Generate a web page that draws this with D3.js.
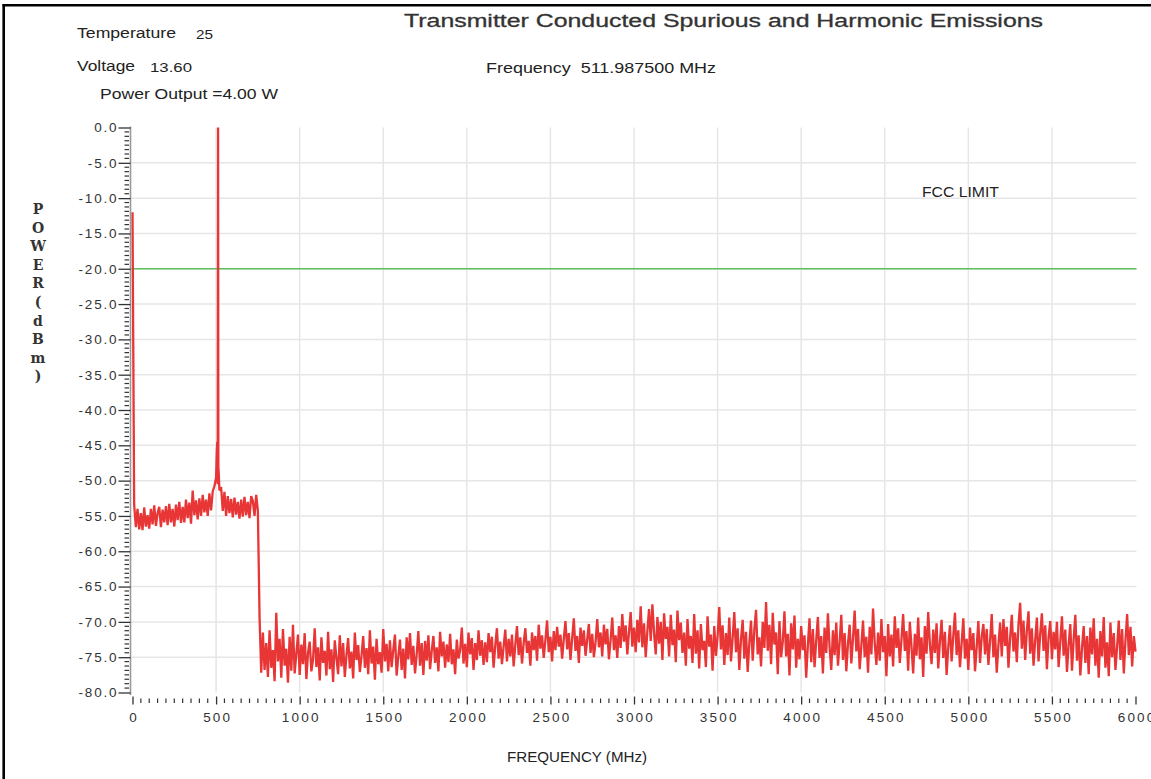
<!DOCTYPE html>
<html><head><meta charset="utf-8">
<script src="https://cdn.jsdelivr.net/npm/d3@7"></script>
<style>body{margin:0;background:#fff;} svg{display:block;}</style>
</head><body><svg id="c" width="1151" height="779"></svg>
<script>
// ---- data ----
const sweepStartMHz = 0;
const sweepStepMHz = 10;
const powerDbm = [
 -12.0,-53.4,-56.6,-54.0,-56.9,-54.6,-57.0,-53.8,-56.5,-54.9,
 -56.8,-54.0,-56.2,-53.5,-56.4,-54.6,-53.7,-56.6,-54.1,-55.9,
 -53.6,-56.3,-53.3,-55.9,-54.0,-56.5,-53.4,-55.6,-53.0,-56.0,
 -53.7,-55.9,-52.7,-55.3,-53.1,-56.1,-51.4,-54.9,-52.8,-55.5,
 -52.5,-55.0,-52.0,-54.5,-52.7,-55.0,-51.8,-54.2,-51.5,-50.8,
 -49.6,-50.5,-51.4,-50.9,-54.3,-51.6,-55.0,-52.2,-54.6,-52.6,
 -55.2,-52.4,-54.8,-53.0,-55.4,-52.7,-55.1,-52.3,-54.9,-53.0,
 -55.3,-52.2,-52.9,-55.0,-52.0,-54.3,-69.3,-77.2,-71.5,-76.8,
 -73.0,-77.8,-71.2,-76.5,-74.0,-78.4,-68.7,-75.6,-72.4,-77.9,
 -71.0,-76.2,-73.8,-78.6,-72.1,-76.9,-70.4,-77.3,-74.5,-71.8,
 -77.5,-73.2,-76.0,-71.6,-78.1,-74.4,-72.8,-77.0,-75.3,-70.9,
 -76.4,-73.6,-78.3,-72.2,-75.8,-74.1,-77.6,-71.4,-76.7,-73.9,
 -78.5,-72.6,-75.1,-77.4,-71.9,-76.3,-73.0,-77.8,-74.7,-72.3,
 -76.6,-74.2,-78.0,-71.5,-75.4,-73.3,-77.1,-74.8,-72.0,-76.5,
 -73.7,-77.4,-71.2,-75.9,-73.5,-78.2,-72.4,-76.0,-74.3,-77.2,
 -71.0,-75.6,-73.1,-77.0,-72.6,-76.4,-74.0,-71.8,-77.6,-74.9,
 -72.5,-76.8,-73.8,-78.0,-72.2,-75.3,-71.6,-76.1,-73.4,-77.3,
 -74.6,-71.3,-76.2,-73.0,-77.5,-72.7,-75.5,-71.9,-76.7,-74.1,
 -72.0,-75.8,-73.6,-77.0,-71.4,-74.9,-72.8,-76.5,-73.2,-75.7,
 -71.7,-76.0,-73.9,-77.4,-72.5,-75.2,-74.0,-70.8,-75.9,-73.1,
 -76.4,-71.5,-74.6,-72.3,-76.8,-73.0,-75.4,-71.2,-74.8,-72.6,
 -76.1,-72.9,-75.7,-71.6,-74.3,-72.1,-76.5,-73.4,-70.9,-75.2,
 -72.8,-76.0,-73.5,-71.1,-75.6,-72.4,-74.9,-71.8,-76.3,-73.2,
 -70.6,-74.7,-72.2,-75.9,-73.0,-70.9,-74.4,-72.7,-76.2,-71.5,
 -74.0,-72.0,-75.5,-70.4,-73.8,-71.9,-75.1,-72.6,-69.8,-74.3,
 -72.1,-75.6,-71.3,-74.0,-70.7,-73.5,-71.8,-75.2,-72.4,-69.9,
 -73.9,-71.6,-75.4,-72.3,-69.5,-74.1,-72.0,-75.8,-70.8,-73.4,
 -71.2,-74.8,-72.5,-70.3,-74.4,-71.7,-75.0,-72.9,-69.6,-73.6,
 -71.5,-74.9,-70.4,-73.2,-71.0,-75.3,-72.6,-69.4,-74.0,-71.9,
 -75.1,-70.6,-73.7,-68.9,-72.8,-70.5,-74.6,-71.4,-68.6,-73.5,
 -70.8,-74.3,-69.7,-72.9,-67.8,-73.6,-70.2,-75.0,-71.3,-68.2,
 -72.7,-67.5,-71.6,-74.6,-69.3,-73.1,-70.0,-75.4,-68.8,-72.4,
 -70.7,-74.9,-69.0,-73.3,-71.1,-75.7,-68.4,-72.6,-70.1,-74.4,
 -71.5,-76.2,-69.6,-73.8,-72.0,-75.8,-68.9,-74.5,-71.2,-76.6,
 -70.3,-74.0,-72.7,-76.4,-69.2,-73.5,-71.8,-76.9,-70.6,-74.8,
 -72.1,-67.9,-73.9,-70.5,-76.1,-71.6,-74.7,-69.4,-75.6,-72.3,
 -68.6,-74.3,-70.9,-76.8,-72.5,-69.7,-75.2,-71.4,-77.1,-73.0,
 -69.8,-75.5,-71.1,-68.3,-74.6,-72.2,-76.3,-70.0,-73.7,-67.2,
 -74.1,-70.4,-76.0,-68.7,-73.2,-71.5,-77.4,-69.9,-75.0,-72.8,
 -68.5,-74.9,-71.7,-77.6,-70.2,-73.9,-69.1,-76.5,-72.4,-75.3,
 -70.6,-74.0,-71.9,-77.9,-73.3,-69.5,-75.7,-71.0,-76.4,-72.6,
 -69.3,-75.1,-72.0,-77.3,-70.8,-74.4,-68.8,-73.6,-76.8,-71.2,
 -74.7,-70.1,-76.2,-72.9,-69.0,-75.4,-71.6,-77.0,-73.1,-70.4,
 -75.9,-72.3,-68.4,-74.2,-71.0,-76.7,-73.4,-69.8,-75.0,-72.1,
 -77.2,-70.7,-74.6,-68.1,-73.0,-76.1,-71.5,-75.5,-69.6,-74.3,
 -72.0,-77.7,-70.3,-74.9,-71.8,-76.3,-69.2,-73.7,-70.9,-75.8,
 -72.5,-68.9,-74.1,-71.3,-76.9,-70.0,-73.5,-77.3,-71.7,-74.8,
 -69.4,-75.3,-72.2,-77.8,-70.6,-74.5,-68.6,-73.2,-76.0,-71.1,
 -74.4,-70.2,-76.6,-72.8,-69.7,-75.1,-71.4,-77.5,-73.6,-70.5,
 -75.6,-72.0,-68.7,-74.7,-71.2,-76.4,-73.0,-69.5,-75.2,-72.4,
 -76.8,-70.8,-74.0,-71.6,-77.0,-73.5,-69.9,-75.8,-72.1,-70.3,
 -74.6,-71.0,-76.1,-72.7,-68.9,-75.0,-71.8,-77.2,-73.3,-70.1,
 -74.9,-69.6,-73.4,-70.7,-76.5,-72.3,-69.0,-74.2,-71.5,-75.7,
 -70.4,-67.3,-73.8,-69.8,-75.4,-71.2,-68.5,-74.5,-70.9,-76.2,
 -72.6,-69.4,-75.6,-71.7,-68.8,-74.1,-70.5,-76.7,-72.2,-69.9,
 -75.3,-71.4,-73.9,-70.0,-76.4,-72.8,-69.2,-74.8,-71.1,-77.1,
 -73.2,-70.3,-76.9,-72.5,-69.0,-75.5,-71.9,-77.6,-73.7,-70.6,
 -75.8,-72.0,-77.4,-70.8,-74.6,-69.5,-76.2,-72.4,-77.9,-71.3,
 -74.9,-69.3,-76.5,-72.9,-77.7,-70.1,-75.0,-71.6,-76.8,-73.5,
 -69.8,-75.4,-71.0,-77.3,-72.6,-68.9,-74.7,-70.7,-76.3,-72.0,
 -74.2
];
// carrier (fundamental) points between sweep samples: [MHz, dBm]
const carrierPoints = [[504, -46.0], [507, -44.5], [509.5, -48.5], [511.99, 0.0], [513.5, -48.0], [516, -49.0]];
const fccLimitDbm = -20;
const xTicks = [0,500,1000,1500,2000,2500,3000,3500,4000,4500,5000,5500,6000];
const yTicks = [0,-5,-10,-15,-20,-25,-30,-35,-40,-45,-50,-55,-60,-65,-70,-75,-80];
const xGridValues = [500,1000,1500,2000,2500,3000,3500,4000,4500,5000,5500];
const yGridValues = [-5,-10,-15,-20,-25,-30,-35,-40,-45,-50,-55,-60,-65,-70,-75];
const yTitleChars = ["P","O","W","E","R","(","d","B","m",")"];
const titleText = "Transmitter Conducted Spurious and Harmonic Emissions";
const infoTemperature = ["Temperature", "25"];
const infoVoltage = ["Voltage", "13.60"];
const infoPower = "Power Output =4.00 W";
const infoFrequency = "Frequency  511.987500 MHz";
const limitLabel = "FCC LIMIT";
const xTitle = "FREQUENCY (MHz)";

// ---- drawing ----
const svg = d3.select("#c");
const x = d3.scaleLinear().domain([0, 6000]).range([132.5, 1135.5]);
const y = d3.scaleLinear().domain([-80, 0]).range([692.5, 127.5]);
const FONT = "'Liberation Sans', Arial, Helvetica, sans-serif";
const TICKFONT = "'Liberation Sans', Arial, sans-serif";
const NARROW = "'Liberation Sans Narrow', 'Liberation Sans', Arial, sans-serif";

svg.append("rect").attr("width",1151).attr("height",779).attr("fill","#fff");
// frame (top and left)
svg.append("line").attr("x1",2.5).attr("x2",1151).attr("y1",5.3).attr("y2",5.3).attr("stroke","#000").attr("stroke-width",2.6);
svg.append("line").attr("x1",3.7).attr("x2",3.7).attr("y1",4).attr("y2",779).attr("stroke","#000").attr("stroke-width",2.6);

// grid
const grid = svg.append("g");
grid.selectAll(".vg").data(xGridValues).join("line")
  .attr("x1", d => x(d)).attr("x2", d => x(d)).attr("y1", y(0)).attr("y2", y(-80))
  .attr("stroke", "#e6e6e6").attr("stroke-width", 1.5);
grid.selectAll(".hg").data(yGridValues).join("line")
  .attr("x1", x(0)-1).attr("x2", x(6000)+1).attr("y1", d => y(d)).attr("y2", d => y(d))
  .attr("stroke", "#e6e6e6").attr("stroke-width", 1.5);

// FCC limit
svg.append("line").attr("x1", x(0)-1).attr("x2", x(6000)+1)
  .attr("y1", y(fccLimitDbm)).attr("y2", y(fccLimitDbm))
  .attr("stroke", "#5cbf5c").attr("stroke-width", 1.4);

// trace
const pts = powerDbm.map((p,i) => [sweepStartMHz + i*sweepStepMHz, p])
  .concat(carrierPoints).sort((a,b) => a[0]-b[0]);
svg.append("path").datum(pts)
  .attr("fill","none").attr("stroke","#e83535").attr("stroke-width",2.3)
  .attr("stroke-linejoin","miter").attr("stroke-miterlimit",1.5)
  .attr("d", d3.line().x(d => x(d[0])).y(d => y(d[1])));

// y axis
const yMinor = d3.range(0, 80.001, 0.625).map(v => -v).filter(v => Math.abs(v % 5) > 1e-6);
const yAxisG = svg.append("g").attr("transform", "translate(130.5,0)");
yAxisG.call(d3.axisLeft(y).tickValues(yTicks).tickSize(12).tickSizeOuter(0).tickPadding(2)
  .tickFormat(d => d.toFixed(1)));
yAxisG.select(".domain").attr("stroke","#999").attr("stroke-width",1.6).attr("d","M0,"+(y(0)-1)+"V"+(y(-80)+2.5));
yAxisG.selectAll(".tick line").attr("stroke","#333").attr("stroke-width",1.3);
yAxisG.selectAll(".tick text").attr("font-family", TICKFONT).attr("font-size", 13.5)
  .attr("fill","#333").style("letter-spacing","1.8px").attr("dx","1.8px");
const yMinorG = svg.append("g").attr("transform","translate(129,0)");
yMinorG.selectAll("line").data(yMinor).join("line")
  .attr("x1",-4.5).attr("x2",0).attr("y1", d => y(d)).attr("y2", d => y(d))
  .attr("stroke","#333").attr("stroke-width",1.2);

// x axis (ticks only)
const xMinor = d3.range(0, 6000.001, 50).filter(v => v % 500 !== 0);
const xAxisG = svg.append("g").attr("transform", "translate(0,696.5)");
xAxisG.call(d3.axisBottom(x).tickValues(xTicks).tickSize(8).tickSizeOuter(0).tickPadding(8)
  .tickFormat(d => String(d)));
xAxisG.select(".domain").remove();
xAxisG.selectAll(".tick line").attr("stroke","#333").attr("stroke-width",1.3);
xAxisG.selectAll(".tick text").attr("font-family", TICKFONT).attr("font-size", 13.5)
  .attr("fill","#333").style("letter-spacing","2.2px").attr("dx","1.1px");
const xMinorG = svg.append("g").attr("transform","translate(0,698.5)");
xMinorG.selectAll("line").data(xMinor).join("line")
  .attr("x1", d => x(d)).attr("x2", d => x(d)).attr("y1",0).attr("y2",4.5)
  .attr("stroke","#333").attr("stroke-width",1.2);

// texts
function txt(s, px, py, size, len, opts = {}) {
  const t = svg.append("text").attr("x", px).attr("y", py).text(s)
    .attr("font-family", opts.family || FONT).attr("font-size", size)
    .attr("fill", opts.fill || "#222").style("white-space","pre");
  if (len) t.attr("textLength", len).attr("lengthAdjust", "spacingAndGlyphs");
  if (opts.stroke) t.attr("stroke", opts.fill || "#222").attr("stroke-width", opts.stroke);
  return t;
}
txt(titleText, 404, 27, 18, 639, {stroke: 0.3, fill: "#333", family: NARROW});
txt(infoTemperature[0], 77, 38, 14, 99);
txt(infoTemperature[1], 196, 39, 13, 17);
txt(infoVoltage[0], 77, 71, 14, 58);
txt(infoVoltage[1], 150, 72, 13, 42);
txt(infoPower, 100, 99, 14, 178);
txt(infoFrequency, 486, 73, 14, 230, {family: NARROW});
txt(limitLabel, 922, 197, 14, 77, {family: NARROW});
txt(xTitle, 507, 762, 15, 140, {family: NARROW});

// vertical y title
svg.append("g").selectAll("text").data(yTitleChars).join("text")
  .attr("x", 38).attr("y", (d,i) => 214 + i*18.6).attr("text-anchor","middle")
  .attr("font-family","'DejaVu Serif', 'Liberation Serif', serif").attr("font-size", 14)
  .attr("font-weight","bold").attr("fill","#333").text(d => d);
</script></body></html>
